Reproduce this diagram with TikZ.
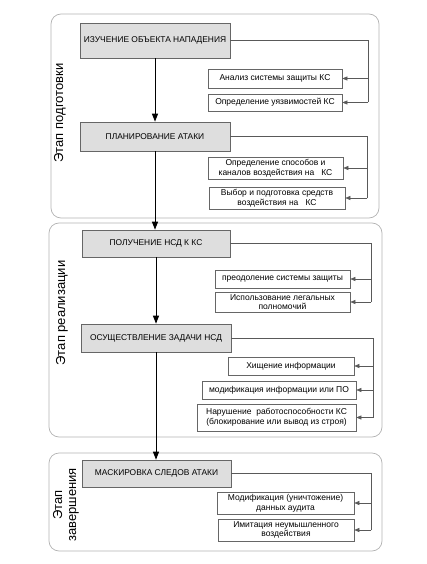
\documentclass[tikz,border=0pt]{standalone}
\usepackage{fontspec}
\setmainfont{Liberation Sans}
\usetikzlibrary{arrows.meta}
\begin{document}
\begin{tikzpicture}[x=1pt,y=-1pt,
  frame/.style={draw=black!30,line width=0.7pt,rounded corners=10pt},
  mainbox/.style={draw=black!60,fill=black!13,line width=0.6pt,inner sep=0pt,
    font=\fontsize{8.4}{9}\selectfont},
  subbox/.style={draw=black!60,fill=white,line width=0.6pt,inner sep=0pt,align=center,
    font=\fontsize{8.5}{9.6}\selectfont},
  stagelabel/.style={rotate=90,align=center,font=\fontsize{13}{14}\selectfont},
  mainarrow/.style={-{Triangle[length=8pt,width=6pt]},line width=1pt,black},
  link/.style={draw=black!65,line width=0.6pt},
  subarrow/.style={link,-{Triangle[length=5pt,width=4pt]},draw=black!65,fill=black}]
\useasboundingbox (0,0) rectangle (427,564);
% frames
\draw[frame] (51,14) rectangle (379,218);
\draw[frame] (49,223) rectangle (382,437);
\draw[frame] (49,453) rectangle (382,551);
% stage labels
\node[stagelabel] (l1) at (60,113) {Этап подготовки};
\node[stagelabel] (l2) at (62,313) {Этап реализации};
\node[stagelabel] (l3) at (66,505) {Этап\\завершения};
% main boxes
\node[mainbox,minimum width=150,minimum height=35] (b1) at (155,40.5) {ИЗУЧЕНИЕ ОБЪЕКТА НАПАДЕНИЯ};
\node[mainbox,minimum width=150,minimum height=29] (b2) at (155,136.5) {ПЛАНИРОВАНИЕ АТАКИ};
\node[mainbox,minimum width=148,minimum height=27] (b3) at (156,243.5) {ПОЛУЧЕНИЕ НСД К КС};
\node[mainbox,minimum width=150,minimum height=28] (b4) at (156,338) {ОСУЩЕСТВЛЕНИЕ ЗАДАЧИ НСД};
\node[mainbox,minimum width=149,minimum height=27] (b5) at (156.5,473.5) {МАСКИРОВКА СЛЕДОВ АТАКИ};
% sub boxes
\node[subbox,minimum width=134,minimum height=19] (s1a) at (275,78.5) {Анализ системы защиты КС};
\node[subbox,minimum width=134,minimum height=17] (s1b) at (275,102.5) {Определение уязвимостей\ КС};
\node[subbox,minimum width=135,minimum height=22] (s2a) at (275.5,168) {Определение способов и\\каналов воздействия на\ \ \ КС};
\node[subbox,minimum width=136,minimum height=22] (s2b) at (277,198) {Выбор и\ подготовка средств\\воздействия на\ \ \ КС};
\node[subbox,minimum width=135,minimum height=18] (s3a) at (282.5,279) {преодоление системы защиты};
\node[subbox,minimum width=135,minimum height=20] (s3b) at (282.5,302) {Использование легальных\\полномочий};
\node[subbox,minimum width=126,minimum height=18] (s4a) at (291,366) {Хищение информации};
\node[subbox,minimum width=154,minimum height=18] (s4b) at (279,390) {модификация информации или ПО};
\node[subbox,minimum width=159,minimum height=27] (s4c) at (276.5,417.5) {Нарушение\ \ работоспособности КС\\(блокирование или вывод из строя)};
\node[subbox,minimum width=137,minimum height=22] (s5a) at (285.5,503) {Модификация (уничтожение)\\данных аудита};
\node[subbox,minimum width=136,minimum height=22] (s5b) at (286,530) {Имитация неумышленного\\воздействия};
% bus coordinates
\coordinate (k1) at (368,0);
\coordinate (k2) at (367,0);
\coordinate (k3) at (371,0);
\coordinate (k4) at (373,0);
\coordinate (k5) at (371,0);
% main arrows
\draw[mainarrow] (b1.south) -- (b1.south |- b2.north);
\draw[mainarrow] (b2.south) -- (b2.south |- b3.north);
\draw[mainarrow] (b3.south) -- (b3.south |- b4.north);
\draw[mainarrow] (b4.south) -- (b4.south |- b5.north);
% branch connectors
\draw[link] (b1.east) -- (b1.east -| k1) -- (k1 |- s1b.east);
\draw[subarrow] (k1 |- s1a.east) -- (s1a.east);
\draw[subarrow] (k1 |- s1b.east) -- (s1b.east);
\draw[link] (b2.east) -- (b2.east -| k2) -- (k2 |- s2b.east);
\draw[subarrow] (k2 |- s2a.east) -- (s2a.east);
\draw[subarrow] (k2 |- s2b.east) -- (s2b.east);
\draw[link] (b3.east) -- (b3.east -| k3) -- (k3 |- s3b.east);
\draw[subarrow] (k3 |- s3a.east) -- (s3a.east);
\draw[subarrow] (k3 |- s3b.east) -- (s3b.east);
\draw[link] (b4.east) -- (b4.east -| k4) -- (k4 |- s4c.east);
\draw[subarrow] (k4 |- s4a.east) -- (s4a.east);
\draw[subarrow] (k4 |- s4b.east) -- (s4b.east);
\draw[subarrow] (k4 |- s4c.east) -- (s4c.east);
\draw[link] (b5.east) -- (b5.east -| k5) -- (k5 |- s5b.east);
\draw[subarrow] (k5 |- s5a.east) -- (s5a.east);
\draw[subarrow] (k5 |- s5b.east) -- (s5b.east);
\end{tikzpicture}
\end{document}
